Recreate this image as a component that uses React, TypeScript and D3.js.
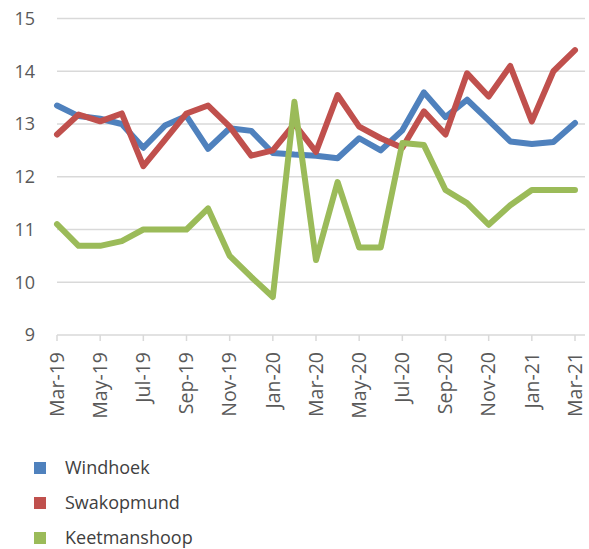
import { useEffect } from 'react';
import * as d3 from 'd3';

const months = [
  'Mar-19', 'Apr-19', 'May-19', 'Jun-19', 'Jul-19', 'Aug-19', 'Sep-19', 'Oct-19', 'Nov-19', 'Dec-19',
  'Jan-20', 'Feb-20', 'Mar-20', 'Apr-20', 'May-20', 'Jun-20', 'Jul-20', 'Aug-20', 'Sep-20', 'Oct-20',
  'Nov-20', 'Dec-20', 'Jan-21', 'Feb-21', 'Mar-21',
];

const windhoek = [
  13.35, 13.15, 13.1, 13.0, 12.55, 12.97, 13.15, 12.53, 12.92, 12.87,
  12.45, 12.42, 12.4, 12.35, 12.73, 12.5, 12.88, 13.6, 13.13, 13.46,
  13.07, 12.67, 12.62, 12.66, 13.02,
];

const swakopmund = [
  12.8, 13.18, 13.05, 13.2, 12.2, 12.7, 13.2, 13.35, 12.95, 12.4,
  12.5, 13.0, 12.47, 13.55, 12.95, 12.73, 12.55, 13.24, 12.8, 13.96,
  13.52, 14.1, 13.05, 14.0, 14.4,
];

const keetmanshoop = [
  11.1, 10.69, 10.69, 10.78, 11.0, 11.0, 11.0, 11.4, 10.5, 10.1,
  9.72, 13.42, 10.42, 11.9, 10.66, 10.66, 12.64, 12.6, 11.75, 11.5,
  11.09, 11.46, 11.75, 11.75, 11.75,
];

const yTicks = [9, 10, 11, 12, 13, 14, 15];

const series = [
  { name: 'Windhoek', color: '#4f81bd', values: windhoek },
  { name: 'Swakopmund', color: '#c0504d', values: swakopmund },
  { name: 'Keetmanshoop', color: '#9bbb59', values: keetmanshoop },
];

const W = 589;
const H = 549;
const FONT = '"Open Sans", "Noto Sans", sans-serif';

export default function App() {
  useEffect(() => {
    document.body.style.margin = '0';
  }, []);

  const x = d3.scaleLinear().domain([0, months.length - 1]).range([57, 575]);
  const y = d3.scaleLinear().domain([9, 15]).range([335, 18.5]);

  const line = d3.line<number>()
    .x((_, i) => x(i))
    .y(d => y(d));

  // only every second month gets a tick + label
  const labelIdx = months.map((_, i) => i).filter(i => i % 2 === 0);

  return (
    <svg width={W} height={H} style={{ display: 'block', background: '#fff' }} fontFamily={FONT}>
      {/* gridlines */}
      {yTicks.map(t => (
        <line key={t} x1={57} x2={585} y1={y(t)} y2={y(t)}
          stroke="#d9d9d9" strokeWidth={1.5} />
      ))}
      {yTicks.map(t => (
        <text key={'l' + t} x={35} y={y(t)} dy="0.35em" textAnchor="end"
          fontSize={18} fill="#595959">{t}</text>
      ))}

      {/* x axis ticks + labels */}
      {labelIdx.map(i => (
        <g key={months[i]} transform={`translate(${x(i)},335)`}>
          <line y1={0} y2={6} stroke="#d9d9d9" strokeWidth={1.5} />
          <text transform="translate(0,17) rotate(-90)" dy="0.35em" textAnchor="end"
            fontSize={19.5} fill="#595959">{months[i]}</text>
        </g>
      ))}

      {/* lines */}
      {series.map(s => (
        <path key={s.name} d={line(s.values) || ''} fill="none" stroke={s.color}
          strokeWidth={6} strokeLinejoin="round" strokeLinecap="round" />
      ))}

      {/* legend */}
      {series.map((s, i) => (
        <g key={'lg' + s.name} transform={`translate(34,${468 + i * 35})`}>
          <rect x={0} y={-6} width={12} height={12} fill={s.color} />
          <text x={31} y={0} dy="0.35em" fontSize={18} fill="#404040">{s.name}</text>
        </g>
      ))}
    </svg>
  );
}
